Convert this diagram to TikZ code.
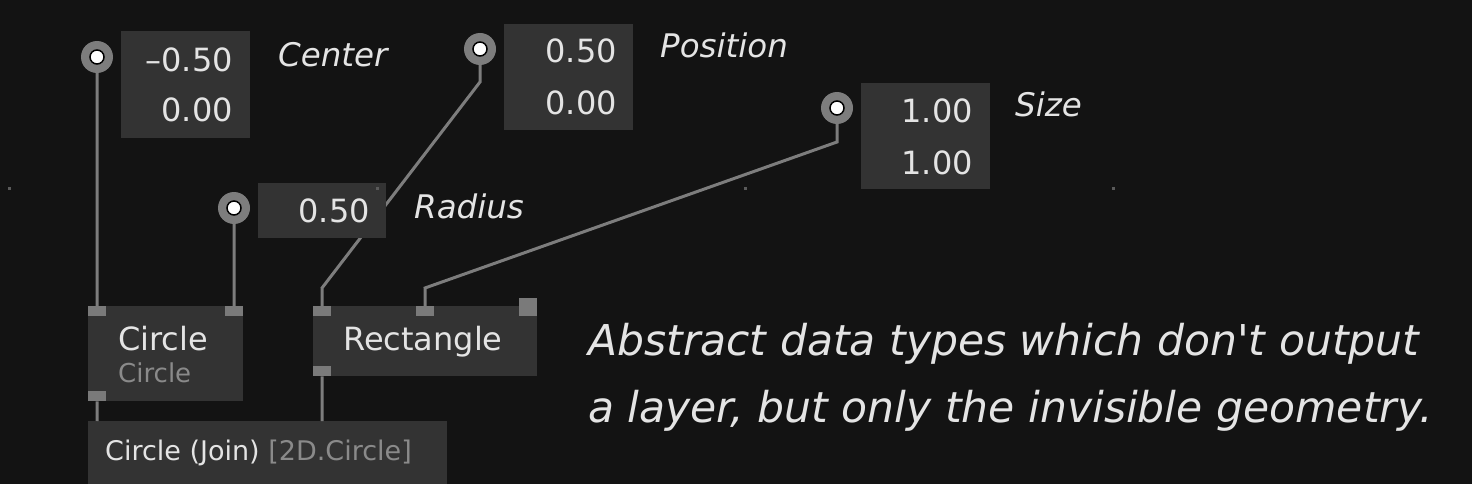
\documentclass[tikz,border=0pt]{standalone}
\usepackage{fontspec}
\setmainfont{DejaVu Sans}[Ligatures=TeXOff]
\definecolor{bg}{HTML}{131313}
\definecolor{boxc}{HTML}{333333}
\definecolor{portc}{HTML}{7A7A7A}
\definecolor{wirec}{HTML}{7D7D7D}
\definecolor{txtw}{HTML}{E4E4E4}
\definecolor{txtg}{HTML}{8A8A8A}
\definecolor{dotc}{HTML}{5A5A5A}
\tikzset{
  panel/.style={fill=boxc, draw=none, inner sep=0pt, anchor=north west},
  port/.style={fill=portc, draw=none, inner sep=0pt, minimum width=18pt, minimum height=10pt, anchor=north west},
  bigport/.style={fill=portc, draw=none, inner sep=0pt, minimum width=18pt, minimum height=18pt, anchor=north west},
  pin/.style={circle, fill=wirec, inner sep=0pt, minimum size=32pt},
  pindot/.style={circle, fill=white, draw=black, line width=1.5pt, inner sep=0pt, minimum size=14pt},
  wire/.style={draw=wirec, line width=3pt},
  num/.style={text=txtw, inner sep=0pt, anchor=base east, font=\fontsize{32}{38}\selectfont},
  lbl/.style={text=txtw, inner sep=0pt, anchor=base west, font=\fontsize{32.5}{38}\selectfont\itshape},
  ttl/.style={text=txtw, inner sep=0pt, anchor=base west, font=\fontsize{32}{38}\selectfont},
  sub/.style={text=txtg, inner sep=0pt, anchor=base west, font=\fontsize{26}{30}\selectfont},
  note/.style={text=txtw, inner sep=0pt, anchor=base west, font=\fontsize{42.5}{50}\selectfont\itshape},
  gdot/.style={fill=dotc, draw=none, inner sep=0pt, minimum size=3pt},
}
\begin{document}
\begin{tikzpicture}[x=1pt,y=-1pt]
\fill[bg] (0,0) rectangle (1472,484);
\useasboundingbox (0,0) rectangle (1472,484);
\clip (0,0) rectangle (1472,484);

% pins
\node[pin] (pc) at (97,57) {};
\node[pin] (pp) at (480,49) {};
\node[pin] (pr) at (234,208) {};
\node[pin] (ps) at (837,108) {};

% operator nodes
\node[panel, minimum width=155pt, minimum height=95pt] (circ) at (88,306) {};
\node[panel, minimum width=224pt, minimum height=70pt] (rect) at (313,306) {};
\node[panel, minimum width=359pt, minimum height=70pt] (join) at (88,421) {};

% ports
\node[port] (c-in1) at (88,306) {};
\node[port] (c-in2) at (225,306) {};
\node[port] (c-out) at (88,391) {};
\node[port] (r-in1) at (313,306) {};
\node[port] (r-in2) at (416,306) {};
\node[bigport] (r-big) at (519,298) {};
\node[port] (r-out) at (313,366) {};

\coordinate (kp1) at (480,82);
\coordinate (kp2) at (322,288);
\coordinate (ks1) at (837,142);
\coordinate (ks2) at (425,288);
\coordinate (jc) at (97,421);
\coordinate (jr) at (322,421);

% wires
\draw[wire] (pc.center) -- (c-in1.north);
\draw[wire] (pr.center) -- (c-in2.north);
\draw[wire] (pp.center) -- (kp1) -- (kp2) -- (r-in1.north);
\draw[wire] (ps.center) -- (ks1) -- (ks2) -- (r-in2.north);
\draw[wire] (c-out.south) -- (jc);
\draw[wire] (r-out.south) -- (jr);

% pin centres
\node[pindot] at (pc) {};
\node[pindot] at (pp) {};
\node[pindot] at (pr) {};
\node[pindot] at (ps) {};

% value boxes
\node[panel, minimum width=129pt, minimum height=107pt] (bc) at (121,31) {};
\node[panel, minimum width=129pt, minimum height=106pt] (bp) at (504,24) {};
\node[panel, minimum width=128pt, minimum height=55pt] (br) at (258,183) {};
\node[panel, minimum width=129pt, minimum height=106pt] (bs) at (861,83) {};

\node[num] at (233,72) {–0.50};
\node[num] at (233,122) {0.00};
\node[num] at (617,63) {0.50};
\node[num] at (617,115) {0.00};
\node[num] at (370,222) {0.50};
\node[num] at (973,123) {1.00};
\node[num] at (973,174) {1.00};

\node[lbl] at (278,67) {Center};
\node[lbl] at (660,58) {Position};
\node[lbl] at (414,218) {Radius};
\node[lbl] at (1015,117) {Size};

\node[ttl] at (118,350) {Circle};
\node[sub] at (118,382) {Circle};
\node[ttl] at (343,350) {Rectangle};
\node[text=txtw, inner sep=0pt, anchor=base west, font=\fontsize{27}{32}\selectfont] at (105,460) {Circle (Join) \textcolor{txtg}{[2D.Circle]}};

\node[note] at (588,355) {Abstract data types which don't output};
\node[note] at (588,422) {a layer, but only the invisible geometry.};

% grid dots
\node[gdot] at (9,188) {};
\node[gdot] at (377,188) {};
\node[gdot] at (745,188) {};
\node[gdot] at (1113,188) {};
\end{tikzpicture}
\end{document}
